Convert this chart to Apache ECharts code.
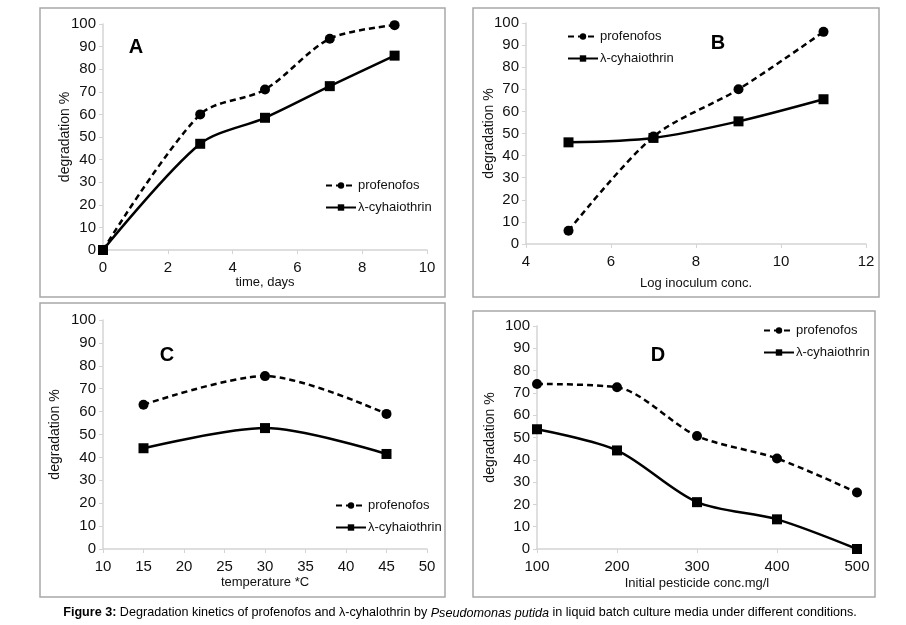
<!DOCTYPE html>
<html>
<head>
<meta charset="utf-8">
<script src="https://cdn.jsdelivr.net/npm/echarts@6/dist/echarts.min.js"></script>
<style>
  html, body { margin: 0; padding: 0; background: #fff; }
  #main { width: 906px; height: 625px; }
</style>
</head>
<body>
<div id="main"></div>
<script>
// panel A - time
let timeDays = [0, 3, 5, 7, 9];
let profA = [0, 60, 71, 93.5, 99.5];
let cyhA = [0, 47, 58.5, 72.5, 86];

// panel B - inoculum
let logInoc = [5, 7, 9, 11];
let profB = [6, 48.6, 70, 96];
let cyhB = [46, 48, 55.5, 65.5];

// panel C - temperature
let tempC = [15, 30, 45];
let profC = [63, 75.5, 59];
let cyhC = [44, 52.8, 41.5];

// panel D - initial conc
let initConc = [100, 200, 300, 400, 500];
let profD = [74, 72.5, 50.7, 40.6, 25.3];
let cyhD = [53.7, 44.2, 21, 13.3, 0];

let names = ["profenofos", "λ-cyhaiothrin"];
let letters = ["A", "B", "C", "D"];
let caption = "{b|Figure 3:} Degradation kinetics of profenofos and λ-cyhalothrin by {i|Pseudomonas putida} in liquid batch culture media under different conditions.";

let font = "'Liberation Sans', Arial, sans-serif";
let ink = "#111";

let d = document;
window.onload = (e) => {
  let chart = echarts.init(d.getElementById("main"));

  let grids = [
    { left: 103, top: 24, width: 324, height: 226 },
    { left: 526, top: 23, width: 340, height: 221 },
    { left: 103, top: 320, width: 324, height: 229 },
    { left: 537, top: 326, width: 320, height: 223 }
  ];
  let xs = [
    { min: 0, max: 10, interval: 2, name: "time, days", gap: 26 },
    { min: 4, max: 12, interval: 2, name: "Log inoculum conc.", gap: 33 },
    { min: 10, max: 50, interval: 5, name: "temperature *C", gap: 27 },
    { min: 100, max: 500, interval: 100, name: "Initial pesticide conc.mg/l", gap: 28 }
  ];
  let yGaps = [31, 30, 41, 40];
  let xData = [timeDays, logInoc, tempC, initConc];
  let profData = [profA, profB, profC, profD];
  let cyhData = [cyhA, cyhB, cyhC, cyhD];

  let xAxis = [], yAxis = [], series = [];
  grids.forEach((g, i) => {
    xAxis.push({
      gridIndex: i, type: "value", min: xs[i].min, max: xs[i].max, interval: xs[i].interval,
      name: xs[i].name, nameLocation: "middle", nameGap: xs[i].gap, nameMoveOverlap: false,
      nameTextStyle: { fontFamily: font, fontSize: 13, color: ink },
      axisLine: { lineStyle: { color: "#d4d4d4", width: 1.5 } },
      axisTick: { show: true, length: 4, lineStyle: { color: "#d4d4d4" } },
      axisLabel: { fontFamily: font, fontSize: 15, color: ink, margin: 10 },
      splitLine: { show: false }
    });
    yAxis.push({
      gridIndex: i, type: "value", min: 0, max: 100, interval: 10,
      name: "degradation %", nameLocation: "middle", nameGap: yGaps[i], nameRotate: 90,
      nameMoveOverlap: false,
      nameTextStyle: { fontFamily: font, fontSize: 14, color: ink },
      axisLine: { show: true, lineStyle: { color: "#d4d4d4", width: 1.5 } },
      axisTick: { show: true, length: 4, lineStyle: { color: "#d4d4d4" } },
      axisLabel: { fontFamily: font, fontSize: 15, color: ink, margin: 7 },
      splitLine: { show: false }
    });
    series.push({
      name: names[0], type: "line", xAxisIndex: i, yAxisIndex: i, smooth: 0.3,
      data: xData[i].map((x, k) => [x, profData[i][k]]),
      symbol: "circle", symbolSize: 10,
      lineStyle: { color: "#000", width: 2.5, type: [6, 4] },
      itemStyle: { color: "#000" },
      z: 3
    });
    series.push({
      name: names[1], type: "line", xAxisIndex: i, yAxisIndex: i, smooth: 0.3,
      data: xData[i].map((x, k) => [x, cyhData[i][k]]),
      symbol: "rect", symbolSize: 10,
      lineStyle: { color: "#000", width: 2.5, type: "solid" },
      itemStyle: { color: "#000" },
      z: 2
    });
  });

  let legendPos = [
    { left: 325, top: 179 },
    { left: 567, top: 30 },
    { left: 335, top: 499 },
    { left: 763, top: 324 }
  ];
  let legend = legendPos.map((p) => ({
    left: p.left, top: p.top, orient: "vertical", data: names,
    itemWidth: 30, itemHeight: 8, itemGap: 9, padding: 0,
    textStyle: { fontFamily: font, fontSize: 13, color: ink, padding: [0, 0, 0, -3] },
    selectedMode: false
  }));

  let boxes = [
    { x: 40, y: 8, width: 405, height: 289 },
    { x: 473, y: 8, width: 406, height: 289 },
    { x: 40, y: 303, width: 405, height: 294 },
    { x: 473, y: 311, width: 402, height: 286 }
  ];
  let letterPos = [[136, 47], [718, 43], [167, 355], [658, 355]];

  let graphic = [];
  boxes.forEach((b) => {
    graphic.push({
      type: "rect", shape: b, silent: true, z: -1,
      style: { fill: "none", stroke: "#a8a8a8", lineWidth: 1.5 }
    });
  });
  letters.forEach((l, i) => {
    graphic.push({
      type: "text", x: letterPos[i][0], y: letterPos[i][1],
      style: { text: l, font: "bold 20px " + font, fill: "#000", align: "center", verticalAlign: "middle" }
    });
  });
  graphic.push({
    type: "text", x: 460, y: 613,
    style: {
      text: caption, fontFamily: font, fontSize: 12.6, fill: "#000",
      align: "center", verticalAlign: "middle",
      rich: {
        b: { fontWeight: "bold", fontFamily: font, fontSize: 12.6 },
        i: { fontStyle: "italic", fontFamily: font, fontSize: 12.6 }
      }
    }
  });

  chart.setOption({
    backgroundColor: "#fff",
    animation: false,
    textStyle: { fontFamily: font },
    grid: grids,
    xAxis: xAxis,
    yAxis: yAxis,
    legend: legend,
    series: series,
    graphic: graphic
  });
};
</script>
</body>
</html>
